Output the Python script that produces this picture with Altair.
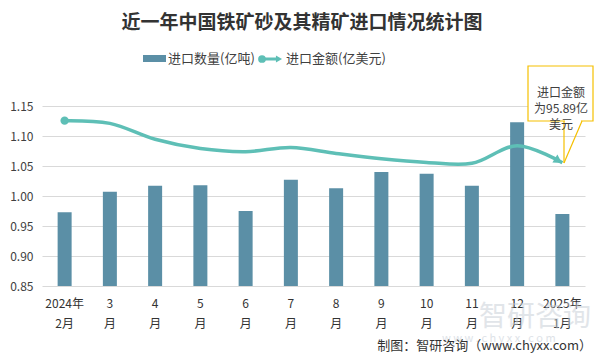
import altair as alt
import pandas as pd

months = ["2024年|2月", "3|月", "4|月", "5|月", "6|月", "7|月", "8|月", "9|月",
          "10|月", "11|月", "12|月", "2025年|1月"]
qty = [0.973, 1.007, 1.017, 1.018, 0.975, 1.027, 1.013, 1.040, 1.037, 1.017, 1.123, 0.970]
amount = [128.6, 126.5, 114.1, 106.9, 104.5, 107.8, 103.1, 98.9, 96.1, 95.4, 109.1, 95.89]
y_ticks = [0.85, 0.90, 0.95, 1.00, 1.05, 1.10, 1.15]

title_text = "近一年中国铁矿砂及其精矿进口情况统计图"
legend_bar = "进口数量(亿吨)"
legend_line = "进口金额(亿美元)"
note_lines = ["进口金额", "为95.89亿", "美元"]
footer = "制图：智研咨询（www.chyxx.com）"

FONT = "Microsoft YaHei, Noto Sans CJK SC, sans-serif"
BAR_C = "#5b8fa6"
LINE_C = "#5ebfb6"
TXT = "#404040"

df = pd.DataFrame({"month": months, "qty": qty, "amount": amount})
df_first = df.iloc[[0]]
df_last = df.iloc[[-1]]

W, H = 543, 180

x_enc = alt.X("month:N", sort=months,
              scale=alt.Scale(paddingInner=0, paddingOuter=0),
              axis=alt.Axis(title=None, labelExpr="split(datum.label, '|')", labelAngle=0,
                            labelFontSize=12, labelColor="#333333", labelFont=FONT,
                            labelPadding=12, labelLineHeight=20, domain=False, ticks=False,
                            labelBaseline="top"))

bars = alt.Chart(df).mark_bar(size=14, color=BAR_C).encode(
    x=x_enc,
    y=alt.Y("qty:Q", scale=alt.Scale(domain=[0.85, 1.15], zero=False, nice=False),
            axis=alt.Axis(title=None, values=y_ticks, format=".2f", labelFontSize=12,
                          labelColor=TXT, labelFont=FONT, labelPadding=9, domain=False,
                          ticks=False, grid=True, gridColor="#d9d9d9", gridWidth=1)),
    y2=alt.datum(0.85),
)

yline = alt.Y("amount:Q", scale=alt.Scale(domain=[0, 140], nice=False, zero=False), axis=None)

line = alt.Chart(df).mark_line(color=LINE_C, strokeWidth=3.5, interpolate="catmull-rom").encode(
    x=alt.X("month:N", sort=months), y=yline)
dot = alt.Chart(df_first).mark_point(shape="circle", filled=True, color=LINE_C, size=70, opacity=1).encode(
    x=alt.X("month:N", sort=months), y=yline)
arrow = alt.Chart(df_last).mark_point(shape="triangle-right", filled=True, color=LINE_C, size=90,
                                      angle=32, opacity=1, xOffset=-4, yOffset=-2).encode(
    x=alt.X("month:N", sort=months), y=yline)

line_layer = alt.layer(line, dot, arrow)

# Title
title = alt.Chart(df_first).mark_text(text=title_text, font=FONT, fontSize=19, fontWeight="bold",
                                      color="#333333", align="center", baseline="middle").encode(
    x=alt.value(260), y=alt.value(-83))

# Legend
leg_rect = alt.Chart(df_first).mark_rect(color=BAR_C).encode(
    x=alt.value(101), x2=alt.value(124), y=alt.value(-51), y2=alt.value(-44))
leg_t1 = alt.Chart(df_first).mark_text(text=legend_bar, font=FONT, fontSize=13, color=TXT,
                                       align="left", baseline="middle").encode(
    x=alt.value(126), y=alt.value(-47))
leg_rule = alt.Chart(df_first).mark_rule(color=LINE_C, strokeWidth=3).encode(
    x=alt.value(220), x2=alt.value(236), y=alt.value(-47))
leg_dot = alt.Chart(df_first).mark_point(shape="circle", filled=True, color=LINE_C, size=60, opacity=1).encode(
    x=alt.value(220), y=alt.value(-47))
leg_arr = alt.Chart(df_first).mark_point(shape="triangle-right", filled=True, color=LINE_C, size=50, opacity=1).encode(
    x=alt.value(237), y=alt.value(-47))
leg_t2 = alt.Chart(df_first).mark_text(text=legend_line, font=FONT, fontSize=13, color=TXT,
                                       align="left", baseline="middle").encode(
    x=alt.value(244), y=alt.value(-47))

# Callout
box = alt.Chart(df_first).mark_rect(fill="white", stroke="#f5c000", strokeWidth=1.2).encode(
    x=alt.value(486), x2=alt.value(551), y=alt.value(-40), y2=alt.value(15))
gap = alt.Chart(df_first).mark_rule(color="white", strokeWidth=2).encode(
    x=alt.value(523), x2=alt.value(539), y=alt.value(15))
p1 = alt.Chart(df_first).mark_rule(color="#f5c000", strokeWidth=1.2).encode(
    x=alt.value(522), x2=alt.value(522), y=alt.value(15), y2=alt.value(57))
p2 = alt.Chart(pd.DataFrame({"a": [0, 1]})).mark_line(color="#f5c000", strokeWidth=1.2).encode(
    x=alt.X("a:Q", scale=alt.Scale(domain=[0, 1], range=[540, 522]), axis=None),
    y=alt.Y("a:Q", scale=alt.Scale(domain=[0, 1], range=[15, 57]), axis=None))
note = alt.Chart(df_first).mark_text(text=note_lines, font=FONT, fontSize=12, color=TXT,
                                     align="center", baseline="middle", lineHeight=16).encode(
    x=alt.value(519), y=alt.value(-13))

# Watermark + footer
wm1 = alt.Chart(df_first).mark_text(text="智研咨询", font=FONT, fontSize=28, color="#c5ccd5",
                                    opacity=0.5, align="left", baseline="middle").encode(
    x=alt.value(437), y=alt.value(212))
wm2 = alt.Chart(df_first).mark_text(text="w w w . c h y x x . c o m", font=FONT, fontSize=11,
                                    color="#c5ccd5", opacity=0.55, align="left", baseline="middle").encode(
    x=alt.value(400), y=alt.value(233))
foot = alt.Chart(df_first).mark_text(text=footer, font=FONT, fontSize=13, color="#333333",
                                     align="right", baseline="middle").encode(
    x=alt.value(550), y=alt.value(240))

main = alt.layer(bars, line_layer).resolve_scale(y="independent")

chart = alt.layer(wm1, wm2, main, title, leg_rect, leg_t1, leg_rule, leg_dot, leg_arr, leg_t2,
                  box, gap, p1, p2, note, foot).resolve_scale(
    y="independent", x="shared").properties(
    width=W, height=H,
    autosize=alt.AutoSizeParams(type="none"),
    padding={"left": 34, "top": 98, "right": 12, "bottom": 69},
    background="white",
).configure_view(stroke=None)

chart.save("out.html", embed_options={"renderer": "svg", "actions": False})
